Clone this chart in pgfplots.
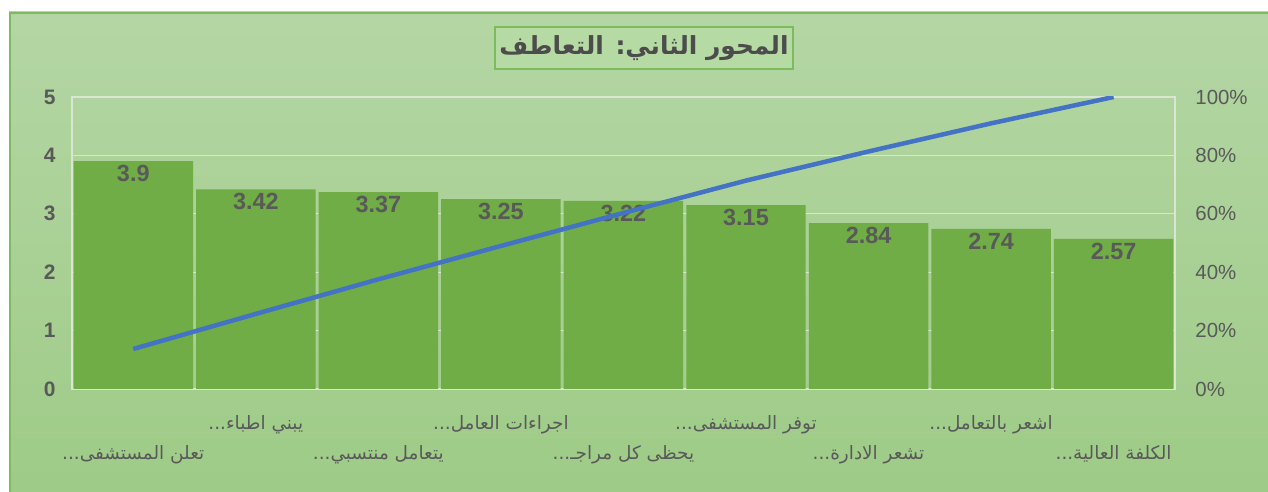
\documentclass[border=0pt]{standalone}
\usepackage{pgfplots}
\usepackage{pgfplotstable}
\pgfplotsset{compat=1.18}
\usepackage{fontspec}
\setmainfont{Liberation Sans}
\newfontfamily\arabicfont[Script=Arabic]{DejaVu Sans}
\TeXXeTstate=1
\definecolor{bargreen}{HTML}{70AD47}
\definecolor{linblue}{HTML}{4472C4}
\definecolor{txtgray}{HTML}{595959}
\definecolor{bgtop}{HTML}{B4D6A4}
\definecolor{bgbot}{HTML}{9ECB87}
\definecolor{gridc}{HTML}{D9E6D2}
\definecolor{framec}{HTML}{7DBB5E}
\definecolor{titlefill}{HTML}{B6DAA4}
\newcommand{\dts}{...}

\pgfplotstableread{
x y cum
1 3.90 13.703
2 3.42 25.720
3 3.37 37.561
4 3.25 48.981
5 3.22 60.295
6 3.15 71.363
7 2.84 81.342
8 2.74 90.970
9 2.57 100.000
}\data

\begin{document}
\begin{tikzpicture}[x=1bp,y=1bp]
\useasboundingbox (0,0) rectangle (1268,492);
\shade[top color=bgtop,bottom color=bgbot] (9,0) rectangle (1268,480);
\draw[framec, line width=2bp] (10,0) -- (10,479) -- (1268,479);
\begin{axis}[
  at={(72bp,103bp)}, anchor=south west,
  scale only axis, width=1103bp, height=292bp,
  xmin=0.5, xmax=9.5, ymin=0, ymax=5,
  ytick={0,...,5},
  ymajorgrids, grid style={gridc, line width=1.3bp},
  axis line style={gridc, line width=1.3bp},
  major tick length=0, tick style={draw=none},
  /pgf/number format/assume math mode=true,
  yticklabel style={font=\fontsize{21}{24}\selectfont\bfseries, text=txtgray, xshift=-13bp},
  xtick={2,4,6,8},
  xticklabels={
    {\beginR يبني اطباء\dts\endR},
    {\beginR اجراءات العامل\dts\endR},
    {\beginR توفر المستشفى\dts\endR},
    {\beginR اشعر بالتعامل\dts\endR}},
  extra x ticks={1,3,5,7,9},
  extra x tick labels={
    {\beginR تعلن المستشفى\dts\endR},
    {\beginR يتعامل منتسبي\dts\endR},
    {\beginR يحظى كل مراجـ\dts\endR},
    {\beginR تشعر الادارة\dts\endR},
    {\beginR الكلفة العالية\dts\endR}},
  extra x tick style={grid=none, xticklabel style={yshift=-30bp}},
  xticklabel style={font=\arabicfont\fontsize{18.5}{22}\selectfont, text=txtgray, yshift=-23bp},
  ybar, bar width=0.975,
  nodes near coords,
  every node near coord/.append style={anchor=north, inner sep=1bp, yshift=-3bp,
     font=\fontsize{23.5}{26}\selectfont\bfseries, text=txtgray},
]
\addplot[fill=bargreen, draw=none] table[x=x,y=y]{\data};
\end{axis}
\begin{axis}[
  at={(72bp,103bp)}, anchor=south west,
  scale only axis, width=1103bp, height=292bp,
  xmin=0.5, xmax=9.5, ymin=0, ymax=100,
  axis y line*=right, axis x line=none,
  ytick={0,20,...,100},
  yticklabel={\pgfmathprintnumber{\tick}\%},
  /pgf/number format/assume math mode=true,
  yticklabel style={font=\fontsize{20.5}{24}\selectfont, text=txtgray, xshift=17bp},
  axis line style={gridc, line width=1.3bp},
  major tick length=0, tick style={draw=none},
]
\addplot[linblue, line width=4.5bp] table[x=x,y=cum]{\data};
\end{axis}
\node[draw=framec, fill=titlefill, line width=1.5bp, minimum width=298bp, minimum height=42bp,
  text=txtgray!85!black, font=\arabicfont\bfseries\fontsize{25}{30}\selectfont] at (644,444)
  {\beginR المحور الثاني: التعاطف\endR};
\end{tikzpicture}
\end{document}
